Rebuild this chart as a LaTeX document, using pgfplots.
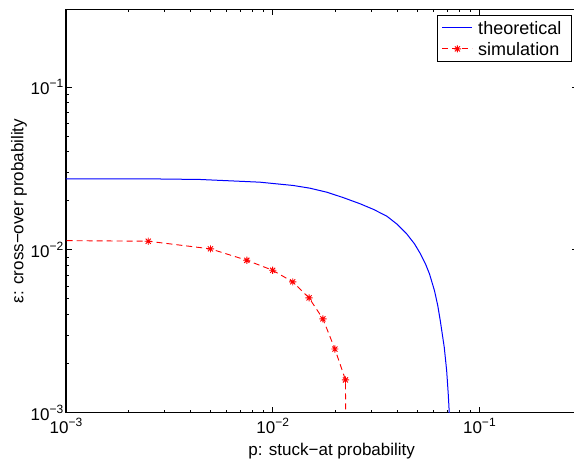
\documentclass[border=0pt]{standalone}
\usepackage{fontspec}
\setmainfont{Liberation Sans}
\usepackage{pgfplots}
\pgfplotsset{compat=1.18}

% matlab-like asterisk: a plus and a cross
\pgfdeclareplotmark{mstar}{%
  \pgfpathmoveto{\pgfqpoint{-\pgfplotmarksize}{0pt}}%
  \pgfpathlineto{\pgfqpoint{\pgfplotmarksize}{0pt}}%
  \pgfpathmoveto{\pgfqpoint{0pt}{-\pgfplotmarksize}}%
  \pgfpathlineto{\pgfqpoint{0pt}{\pgfplotmarksize}}%
  \pgfpathmoveto{\pgfqpoint{-0.707\pgfplotmarksize}{-0.707\pgfplotmarksize}}%
  \pgfpathlineto{\pgfqpoint{0.707\pgfplotmarksize}{0.707\pgfplotmarksize}}%
  \pgfpathmoveto{\pgfqpoint{-0.707\pgfplotmarksize}{0.707\pgfplotmarksize}}%
  \pgfpathlineto{\pgfqpoint{0.707\pgfplotmarksize}{-0.707\pgfplotmarksize}}%
  \pgfusepathqstroke}

\newcommand{\ep}[1]{10\raisebox{7pt}{\fontsize{12}{12}\selectfont −#1}}

\begin{document}
\begin{tikzpicture}
\begin{axis}[
  name=ax, at={(0,0)}, anchor=south west,
  scale only axis, width=512pt, height=403.4pt,
  xmode=log, ymode=log,
  xmin=1e-3, xmax=0.3, ymin=1e-3, ymax=0.3,
  xtick={1e-3,1e-2,1e-1}, ytick={1e-3,1e-2,1e-1},
  xticklabels={\ep{3},\ep{2},\ep{1}},
  yticklabels={\ep{3},\ep{2},\ep{1}},
  axis line style={line width=1.2pt},
  major tick length=6pt, minor tick length=3pt,
  every tick/.style={black, line width=0.8pt},
  tick label style={font=\fontsize{17}{20}\selectfont, inner sep=1.5pt},
  xticklabel style={yshift=-4pt},
  yticklabel style={xshift=-1pt},
  xlabel={p: stuck−at probability},
  ylabel={ε: cross−over probability},
  label style={font=\fontsize{17}{20}\selectfont},
  xlabel style={at={(axis description cs:0.519,-0.095)}, anchor=center},
  ylabel style={at={(axis description cs:-0.092,0.5)}, anchor=center},
  legend style={at={(axis description cs:1,1)}, anchor=north east,
    xshift=-6.3pt, yshift=-5.7pt, draw=black, line width=0.8pt,
    font=\fontsize{18}{21}\selectfont, inner xsep=4.7pt, inner ysep=2pt,
    row sep=0pt,
    nodes={inner xsep=5.3pt, inner ysep=0pt, text height=17pt, text depth=4pt}},
  legend cell align=left,
  legend image code/.code={%
    \draw[#1, mark indices={2}]
      plot coordinates {(0pt,0pt) (15pt,0pt) (30pt,0pt)};},
]
  % theoretical
  \addplot[color=blue, line width=1pt] coordinates {
    (0.001, 0.02732)
    (0.002549, 0.02728)
    (0.004449, 0.02705)
    (0.008682, 0.02603)
    (0.01258, 0.02484)
    (0.01515, 0.02391)
    (0.01826, 0.02260)
    (0.02188, 0.02096)
    (0.02644, 0.01920)
    (0.03067, 0.01774)
    (0.03559, 0.01613)
    (0.03980, 0.01444)
    (0.04449, 0.01254)
    (0.04853, 0.01089)
    (0.05188, 0.00945)
    (0.05485, 0.00820)
    (0.05736, 0.00712)
    (0.06064, 0.00562)
    (0.06290, 0.00455)
    (0.06468, 0.00368)
    (0.06763, 0.00252)
    (0.06947, 0.00181)
    (0.07071, 0.00130)
    (0.07151, 0.00100)
    (0.07200, 0.00070)
  };
  \addlegendentry{theoretical}

  % simulation
  \addplot[color=red, line width=0.9pt, dash pattern=on 6pt off 4pt,
    mark=mstar, mark size=3.6pt, mark options={solid},
    mark indices={1,2,3,4,5,6,7,8,9}] coordinates {
    (0.0009, 0.0114)
    (0.0025, 0.0113)
    (0.0050, 0.01014)
    (0.0075, 0.00863)
    (0.0100, 0.00749)
    (0.0125, 0.00636)
    (0.0150, 0.00507)
    (0.0175, 0.00377)
    (0.0200, 0.00246)
    (0.0225, 0.00159)
    (0.0226, 0.0005)
  };
  \addlegendentry{simulation}
\end{axis}
\pgfresetboundingbox
\path (-66pt,-49.3pt) rectangle (508pt,412.7pt);
\end{tikzpicture}
\end{document}
